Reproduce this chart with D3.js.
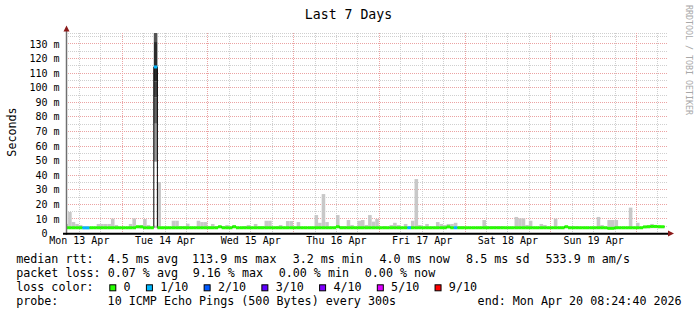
<!DOCTYPE html>
<html>
<head>
<meta charset="utf-8">
<script src="https://cdn.jsdelivr.net/npm/d3@7"></script>
<style>
  body { margin: 0; background: #fff; }
  svg { display: block; }
  text { font-family: "DejaVu Sans Mono", monospace; }
</style>
</head>
<body>
<svg id="chart" width="697" height="315"></svg>
<script>
// time range shown (UTC), one bucket per hour starting at 08:00 on Apr 13
const rangeStart = Date.UTC(2026, 3, 13, 8, 24, 40);
const rangeEnd = Date.UTC(2026, 3, 20, 8, 24, 40);
const firstBucket = Date.UTC(2026, 3, 13, 8);

// median rtt per hour (ms), rows = days
const medianMs = [
  3.6, 3.6, 3.6, 3.6, 3.6, 3.5, 3.5, 3.6, 3.6, 3.6, 3.6, 3.6, 3.6, 3.6, 3.6, 3.6,
  3.6, 3.6, 3.6, 3.6, 4.3, 4.2, 3.6, 3.6, 3.6, 113.9, 3.6, 3.6, 3.6, 3.6, 3.6, 3.6, 3.6, 3.6, 3.6, 3.6, 3.6, 3.6, 3.6, 3.6,
  3.6, 3.6, 3.6, 4.3, 3.6, 3.6, 3.6, 4.3, 3.6, 3.6, 3.6, 3.6, 3.6, 3.6, 3.6, 3.6, 3.6, 3.6, 3.6, 3.6, 3.6, 3.6, 3.6, 3.6,
  3.6, 3.6, 3.6, 3.6, 3.6, 3.6, 3.6, 3.6, 3.6, 3.6, 3.6, 3.6, 4.3, 3.6, 3.6, 3.6, 3.6, 3.6, 3.6, 3.6, 3.6, 3.6, 3.6, 3.6,
  3.6, 3.6, 3.6, 3.6, 3.6, 3.6, 3.6, 3.6, 3.6, 3.6, 3.6, 3.6, 3.6, 3.6, 3.6, 3.6, 3.6, 3.6, 3.6, 4.2, 3.6, 3.6, 3.6, 3.6,
  3.6, 3.6, 3.6, 3.6, 3.6, 3.6, 3.6, 3.6, 3.6, 3.6, 3.6, 3.6, 3.6, 3.6, 3.6, 3.6, 3.6, 3.6, 3.6, 3.6, 3.6, 3.6, 3.6, 3.6,
  3.6, 3.6, 3.6, 3.6, 4.3, 3.6, 3.6, 3.6, 3.6, 3.6, 3.6, 3.6, 3.6, 3.6, 3.6, 3.6, 3.2, 3.2, 3.6, 3.6, 3.6, 3.6, 3.6, 3.6,
  3.6, 3.6, 4.2, 4.3, 4.5, 4.5, 4.3, 4.3, null
];

// highest ping of the smoke per hour (ms)
const smokeTopMs = [
  6.2, 14.4, 7.5, 6.2, 5.5, 4.8, 4.8, 4.2, 4.2, 6.2, 6.2, 6.2, 6.2, 9.8, 5.5, 4.2,
  4.2, 4.2, 6.2, 10, 4.8, 5.5, 9.6, 5.5, 4.2, 5.0, 35, 4.2, 4.2, 4.2, 8.4, 8.4, 4.8, 4.8, 6.4, 4.2, 4.2, 8.4, 7.5, 7.5,
  4.8, 6.2, 4.8, 4.8, 4.8, 5.5, 4.2, 5.5, 4.2, 4.2, 4.8, 5.5, 4.2, 6.2, 4.8, 4.8, 8.4, 8.4, 4.2, 4.8, 5.5, 4.2, 8.2, 8.2,
  4.2, 7.5, 4.2, 4.2, 4.2, 4.2, 12.3, 7.0, 26.7, 7.5, 4.2, 4.2, 12.3, 4.8, 4.8, 8.9, 5.5, 4.2, 8.4, 8.9, 5.5, 12.3, 7.8, 9.6,
  4.2, 4.8, 4.2, 5.5, 7.0, 5.5, 4.2, 6.2, 4.8, 8.4, 37, 5.5, 4.2, 6.2, 4.2, 4.2, 7.5, 6.2, 5.5, 6.2, 6.2, 7.0, 4.8, 4.8,
  4.2, 4.2, 4.2, 4.2, 4.2, 8.9, 4.8, 4.8, 4.8, 4.8, 4.8, 4.2, 4.2, 4.2, 11, 10, 10, 5.5, 8.4, 4.2, 4.2, 6.2, 5.5, 4.2,
  4.2, 9.8, 4.2, 4.2, 4.5, 4.8, 4.8, 4.8, 4.2, 4.2, 4.2, 4.2, 4.2, 11, 5.5, 4.2, 8.9, 8.9, 8.9, 4.2, 4.2, 4.2, 17.4, 4.2,
  7.0, 4.2, 4.5, 5.5, 6.2, 5.5, 5.5, 4.6, null
];

// lost pings out of 10 per hour
const lostPings = [
  0, 0, 0, 0, 0, 1, 1, 0, 0, 0, 0, 0, 0, 0, 0, 0,
  0, 0, 0, 0, 0, 0, 0, 0, 0, 1, 0, 0, 0, 0, 0, 0, 0, 0, 0, 0, 0, 0, 0, 0,
  0, 0, 0, 0, 0, 0, 0, 0, 0, 0, 0, 0, 0, 0, 0, 0, 0, 0, 0, 0, 0, 0, 0, 0,
  0, 0, 0, 0, 0, 0, 0, 0, 0, 0, 0, 0, 0, 0, 0, 0, 0, 0, 0, 0, 0, 0, 0, 0,
  0, 0, 0, 0, 0, 0, 0, 0, 1, 0, 0, 0, 0, 0, 0, 0, 0, 0, 0, 0, 0, 1, 0, 0,
  0, 0, 0, 0, 0, 0, 0, 0, 0, 0, 0, 0, 0, 0, 0, 0, 0, 0, 0, 0, 0, 0, 0, 0,
  0, 0, 0, 0, 0, 0, 0, 0, 0, 0, 0, 0, 0, 0, 0, 0, 0, 0, 0, 0, 0, 0, 0, 0,
  0, 0, 0, 0, 0, 0, 0, 0, 0
];

// the one bad hour (Tue 14 Apr 09:00): sorted ping bands of its smoke (ms)
const spikeBucket = 25;
const spikePingsMs = [49, 75, 93, 104, 131, 140];

const smokeFloorMs = 3.3;

const lossLevels = ['0', '1/10', '2/10', '3/10', '4/10', '5/10', '9/10'];
const lossLevelCount = [0, 1, 2, 3, 4, 5, 9];
const lossColors = ['#26ff00', '#00b8ff', '#0059ff', '#5e00ff', '#7e00ff', '#dd00ff', '#ff0000'];

const yTicks = [0, 10, 20, 30, 40, 50, 60, 70, 80, 90, 100, 110, 120, 130];
const yMinorTicks = [5, 15, 25, 35, 45, 55, 65, 75, 85, 95, 105, 115, 125, 135];
const yMax = 137.2;

const rttStats = ['4.5 ms avg', '113.9 ms max', '3.2 ms min', '4.0 ms now', '8.5 ms sd', '533.9 m am/s'];
const lossStats = ['0.07 % avg', '9.16 % max', '0.00 % min', '0.00 % now'];
const probeText = '10 ICMP Echo Pings (500 Bytes) every 300s';
const endText = 'end: Mon Apr 20 08:24:40 2026';

const svg = d3.select('#chart');
const plot = { left: 66, right: 666, top: 33, bottom: 233 };

const x = d3.scaleUtc().domain([rangeStart, rangeEnd]).range([plot.left, plot.right]);
const y = d3.scaleLinear().domain([0, yMax]).range([plot.bottom, plot.top]);

const buckets = medianMs.map((m, i) => ({
  t0: d3.utcHour.offset(firstBucket, i),
  t1: d3.utcHour.offset(firstBucket, i + 1),
  median: m,
  top: smokeTopMs[i],
  lost: lostPings[i],
  i: i,
})).filter(d => d.median != null);

function lossColor(n) {
  let c = lossColors[0];
  lossLevelCount.forEach((lv, j) => { if (n >= lv) c = lossColors[j]; });
  return c;
}

// grid
const grid = svg.append('g');
const minorHours = d3.utcHour.every(6).range(new Date(rangeStart), new Date(rangeEnd))
  .filter(d => d.getUTCHours() !== 0);
const majorDays = d3.utcDay.range(new Date(rangeStart), new Date(rangeEnd));

function hline(v, color) {
  grid.append('line')
    .attr('x1', plot.left).attr('x2', plot.right + 1)
    .attr('y1', Math.round(y(v)) + 0.5).attr('y2', Math.round(y(v)) + 0.5)
    .attr('stroke', color).attr('stroke-dasharray', '1,1');
}
function vline(t, color) {
  grid.append('line')
    .attr('x1', Math.round(x(t)) + 0.5).attr('x2', Math.round(x(t)) + 0.5)
    .attr('y1', plot.top).attr('y2', plot.bottom)
    .attr('stroke', color).attr('stroke-dasharray', '1,1');
}
hline(yMax, '#cfcfcf');
yMinorTicks.forEach(v => hline(v, '#cfcfcf'));
minorHours.forEach(t => vline(t, '#cfcfcf'));
yTicks.filter(v => v > 0).forEach(v => hline(v, '#eba3a3'));
majorDays.forEach(t => vline(t, '#eba3a3'));

// clipped data layer
svg.append('clipPath').attr('id', 'plotclip')
  .append('rect')
  .attr('x', plot.left).attr('y', plot.top)
  .attr('width', plot.right - plot.left).attr('height', plot.bottom - plot.top);
const layer = svg.append('g').attr('clip-path', 'url(#plotclip)');

// smoke
layer.selectAll('rect.smoke')
  .data(buckets)
  .join('rect')
  .attr('class', 'smoke')
  .attr('x', d => x(d.t0))
  .attr('width', d => x(d.t1) - x(d.t0))
  .attr('y', d => y(d.top))
  .attr('height', d => Math.max(0, y(smokeFloorMs) - y(d.top)))
  .attr('fill', '#c8c8c8');

// smoke bands of the bad hour
const spikeShades = ['#999999', '#666666', '#444444', '#2b2b2b', '#555555'];
const sb = buckets.find(d => d.i === spikeBucket);
layer.selectAll('rect.spike')
  .data(d3.pairs(spikePingsMs))
  .join('rect')
  .attr('class', 'spike')
  .attr('x', x(sb.t0))
  .attr('width', x(sb.t1) - x(sb.t0))
  .attr('y', d => y(d[1]))
  .attr('height', d => y(d[0]) - y(d[1]))
  .attr('fill', (d, j) => spikeShades[j]);

// median as a thin black step line
const stepPts = buckets.map(d => [d.t0, d.median]);
const lastB = buckets[buckets.length - 1];
stepPts.push([lastB.t1, lastB.median]);
layer.append('path')
  .datum(stepPts)
  .attr('fill', 'none')
  .attr('stroke', '#000')
  .attr('stroke-width', 1)
  .attr('d', d3.line().x(d => x(d[0])).y(d => y(d[1])).curve(d3.curveStepAfter));

// median coloured by loss
layer.selectAll('path.median')
  .data(buckets)
  .join('path')
  .attr('class', 'median')
  .attr('fill', 'none')
  .attr('stroke', d => lossColor(d.lost))
  .attr('stroke-width', 3)
  .attr('d', d => `M${x(d.t0)},${y(d.median)}H${x(d.t1)}`);

// axes
const yAxis = svg.append('g')
  .attr('transform', `translate(${plot.left - 0.5},0)`)
  .call(d3.axisLeft(y).tickValues(yTicks).tickSize(0).tickPadding(6)
    .tickFormat(d => d === 0 ? '0' : d + ' m'));
yAxis.select('.domain').remove();
yAxis.selectAll('text')
  .attr('font-family', '"DejaVu Sans Mono", monospace')
  .attr('font-size', 10).attr('fill', '#000').attr('dy', '0.36em')
  .attr('x', d => d === 0 ? -18 : -6);

const dayLabels = d3.utcDay.range(new Date(rangeStart), new Date(rangeEnd))
  .map(d => d3.utcHour.offset(d, 12));
dayLabels.unshift(d3.utcHour.offset(d3.utcDay.floor(new Date(rangeStart)), 12));
const xAxis = svg.append('g')
  .attr('transform', `translate(0,${plot.bottom})`)
  .call(d3.axisBottom(x).tickValues(dayLabels.filter(d => d < rangeEnd)).tickSize(0).tickPadding(4)
    .tickFormat(d3.utcFormat('%a %d %b')));
xAxis.select('.domain').remove();
xAxis.selectAll('text')
  .attr('font-family', '"DejaVu Sans Mono", monospace')
  .attr('font-size', 10).attr('fill', '#000');

svg.append('line')
  .attr('x1', plot.left + 0.5).attr('x2', plot.left + 0.5)
  .attr('y1', plot.bottom + 2).attr('y2', plot.top - 3)
  .attr('stroke', '#707070').attr('stroke-width', 1.5);
svg.append('line')
  .attr('x1', plot.left - 3).attr('x2', plot.right + 3)
  .attr('y1', plot.bottom + 0.8).attr('y2', plot.bottom + 0.8)
  .attr('stroke', '#000').attr('stroke-width', 2);
svg.append('path')
  .attr('d', `M${plot.left - 2.5},${plot.top - 1.5}L${plot.left + 3.5},${plot.top - 1.5}L${plot.left + 0.5},${plot.top - 7.5}Z`)
  .attr('fill', '#8b1a1a');
svg.append('path')
  .attr('d', `M${plot.right + 2},${plot.bottom - 2.5}L${plot.right + 2},${plot.bottom + 3.5}L${plot.right + 8},${plot.bottom + 0.5}Z`)
  .attr('fill', '#8b1a1a');

// title, axis title, watermark
svg.append('text').attr('x', 348.5).attr('y', 18.5)
  .attr('text-anchor', 'middle').attr('font-size', 13.2).text('Last 7 Days');
svg.append('text')
  .attr('transform', 'translate(15.5,132) rotate(-90)')
  .attr('text-anchor', 'middle').attr('font-size', 11.7).text('Seconds');
svg.append('text')
  .attr('transform', 'translate(685.5,5) rotate(90)')
  .attr('font-size', 8.3).attr('fill', '#a8a8a8').text('RRDTOOL / TOBI OETIKER');

// legend
const legend = svg.append('g').attr('font-size', 11.7).attr('fill', '#000');
function put(xp, yp, s) {
  legend.append('text').attr('x', xp).attr('y', yp).attr('xml:space', 'preserve').text(s);
}
put(16.2, 263.3, 'median rtt:');
[107.7, 192.0, 292.7, 379.4, 466.1, 545.5].forEach((xp, j) => put(xp, 263.3, rttStats[j]));
put(16.2, 277.3, 'packet loss:');
[107.7, 192.7, 278.7, 364.8].forEach((xp, j) => put(xp, 277.3, lossStats[j]));
put(16.2, 291.3, 'loss color:');
let cx = 109.3;
lossLevels.forEach((lab, j) => {
  legend.append('rect')
    .attr('x', cx + 0.5).attr('y', 284.8).attr('width', 6).attr('height', 6)
    .attr('fill', lossColors[j]).attr('stroke', '#000').attr('stroke-width', 1);
  put(cx + 14.3, 291.3, lab);
  cx += (lab.length + 4.2) * 7.04;
});
put(16.2, 305.3, 'probe:');
put(107.6, 305.3, probeText);
put(477.6, 305.3, endText);
</script>
</body>
</html>
